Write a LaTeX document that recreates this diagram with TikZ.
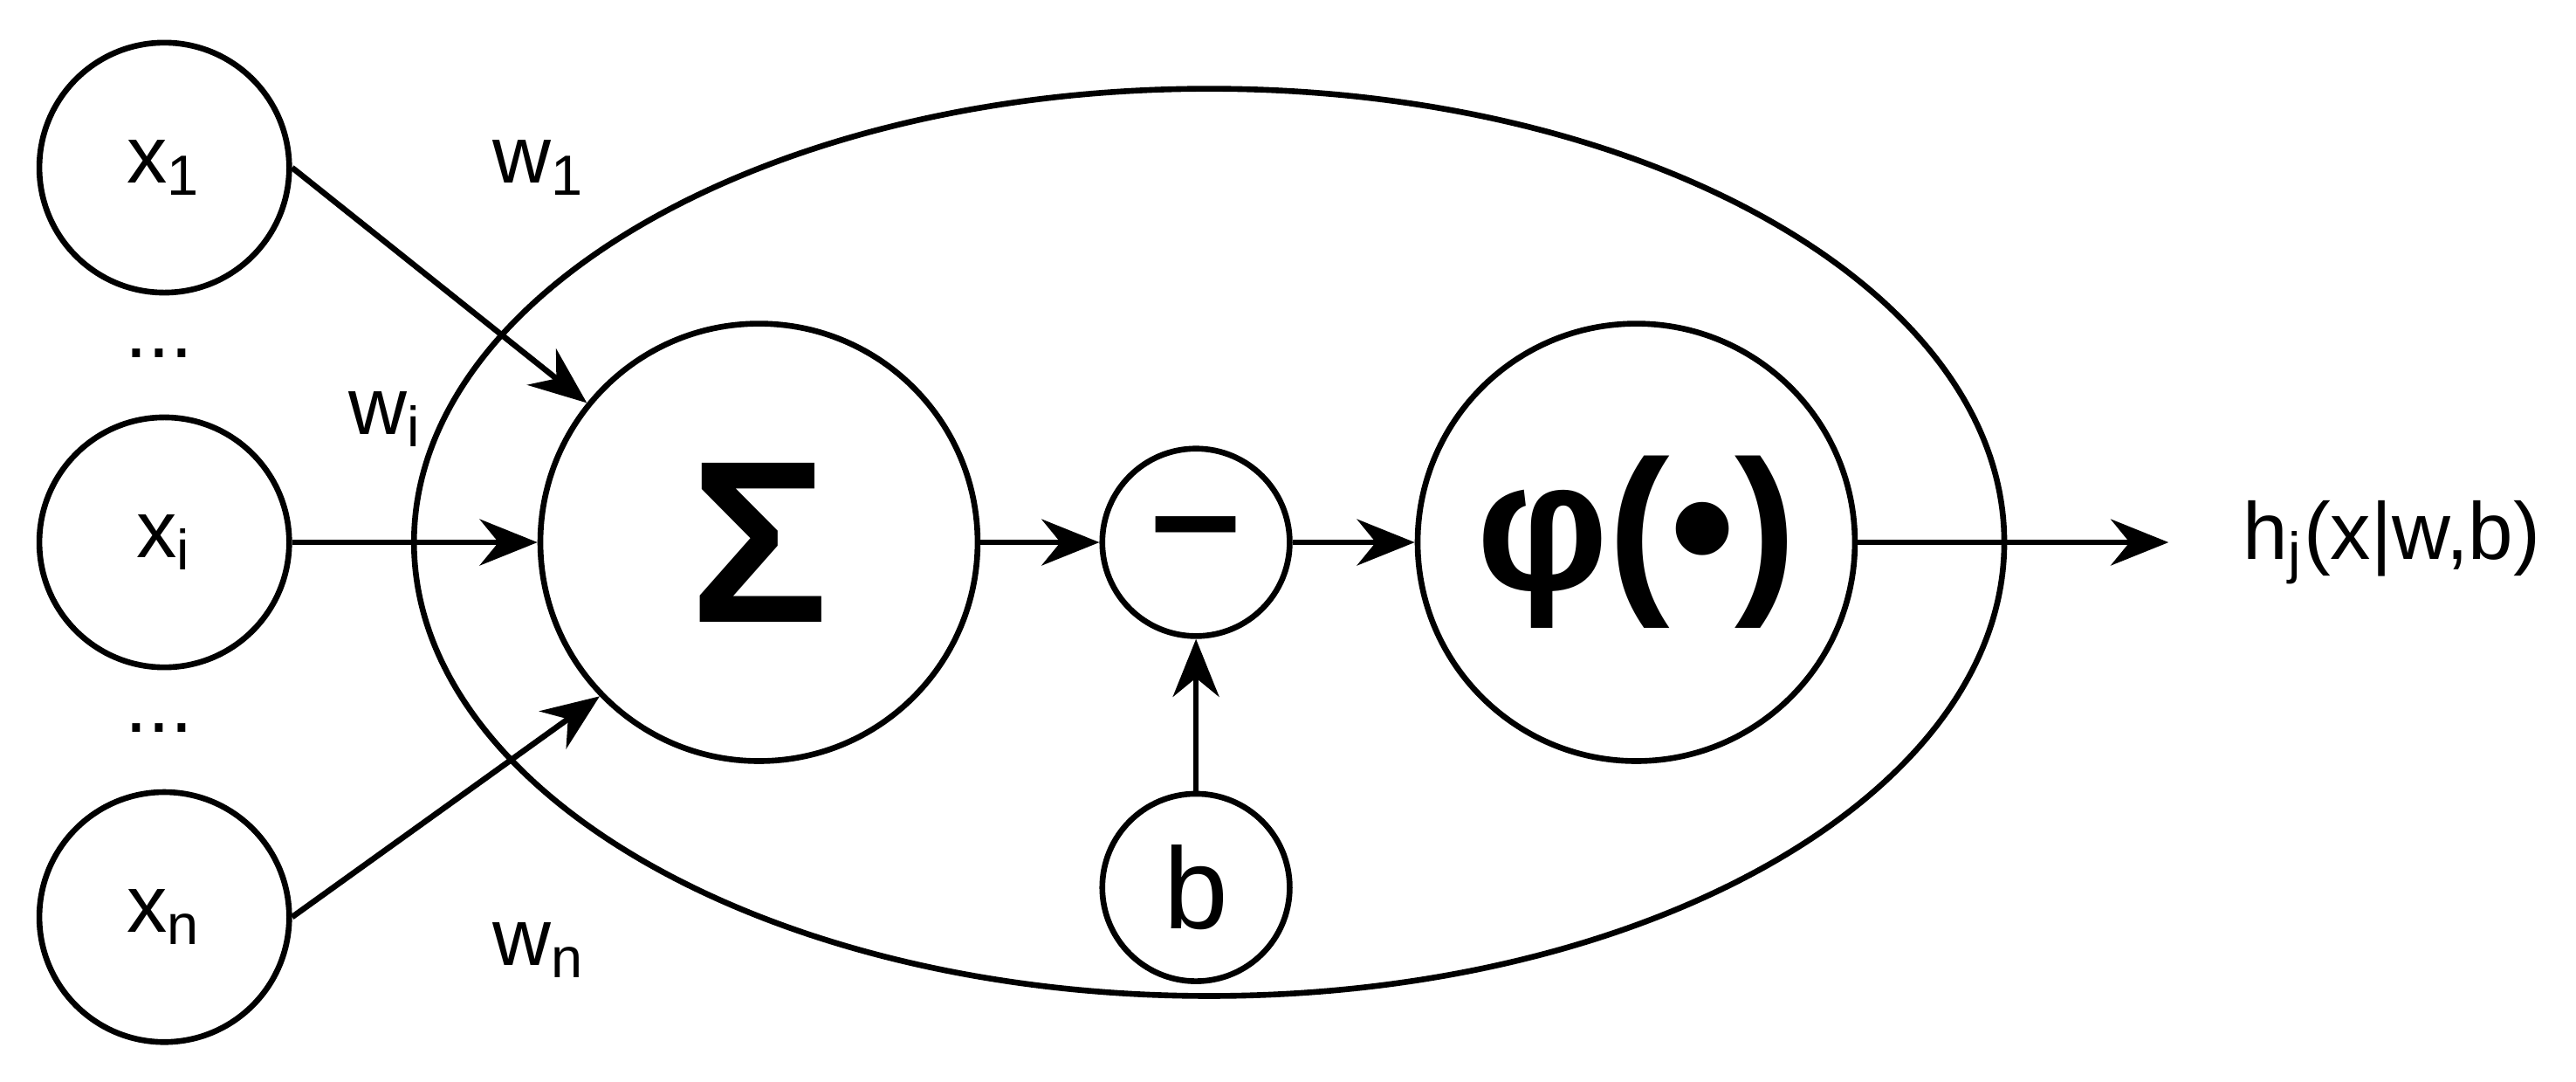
\documentclass[tikz,border=0pt]{standalone}
\usepackage{fontspec}
\setmainfont{Liberation Sans}
\usetikzlibrary{arrows.meta}
\begin{document}
\begin{tikzpicture}[x=0.01cm,y=-0.01cm,line width=1pt,
  circ/.style={circle,draw,inner sep=0pt},
  lab/.style={font=\fontsize{14}{16}\selectfont},
  arr/.style={-{Stealth[length=10pt,width=8pt]}}]
\useasboundingbox (0,0) rectangle (1568,658);
\draw (736,330) ellipse [x radius=484, y radius=-276];
\node[circ,minimum size=1.52cm,lab] (x1) at (100,102) {x\textsubscript{1}};
\node[circ,minimum size=1.52cm,lab] (xi) at (100,330) {x\textsubscript{i}};
\node[circ,minimum size=1.52cm,lab] (xn) at (100,558) {x\textsubscript{n}};
\node[lab] (d1) at (97,215) {...};
\node[lab] (d2) at (97,443) {...};
\node[circ,minimum size=2.66cm,font=\fontsize{40}{40}\selectfont\bfseries] (s) at (462,330) {Σ};
\node[circ,minimum size=1.14cm,font=\fontsize{28}{28}\selectfont\bfseries] (m) at (728,330) {–};
\node[circ,minimum size=2.66cm,font=\fontsize{32}{32}\selectfont\bfseries] (p) at (996,330) {φ(•)};
\node[circ,minimum size=1.14cm,font=\fontsize{20}{20}\selectfont] (b) at (728,540) {b};
\coordinate (o) at (1320,330);
\node[lab,anchor=west] (h) at (1352,330) {h\textsubscript{j}(x|w,b)};
\node[lab] (w1) at (328,102) {w\textsubscript{1}};
\node[lab] (wi) at (235,255) {w\textsubscript{i}};
\node[lab] (wn) at (328,578) {w\textsubscript{n}};
\draw[arr] (x1.east) -- (s.141);
\draw[arr] (xi) -- (s);
\draw[arr] (xn.east) -- (s.224);
\draw[arr] (s) -- (m);
\draw[arr] (m) -- (p);
\draw[arr] (b) -- (m);
\draw[arr] (p) -- (o);
\end{tikzpicture}
\end{document}
